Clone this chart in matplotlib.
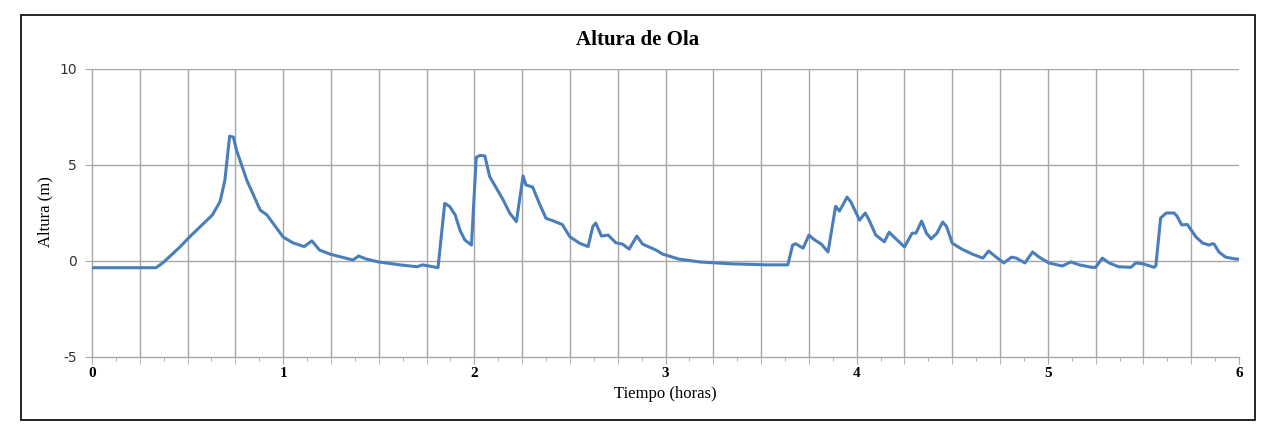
import matplotlib.pyplot as plt
import numpy as np
from matplotlib.patches import Rectangle
from matplotlib.ticker import FixedLocator

plt.rcParams['axes.unicode_minus'] = False

# tiempo (horas) y altura de ola (m)
tiempo = [0.0, 0.335, 0.37, 0.46, 0.51, 0.63, 0.67, 0.695, 0.72, 0.74, 0.755,
          0.81, 0.88, 0.915, 1.0, 1.05, 1.11, 1.15, 1.19, 1.245, 1.365, 1.395,
          1.435, 1.5, 1.61, 1.70, 1.73, 1.81, 1.845, 1.87, 1.90, 1.925, 1.95,
          1.985, 2.01, 2.03, 2.055, 2.08, 2.115, 2.15, 2.185, 2.22, 2.255,
          2.27, 2.305, 2.34, 2.375, 2.41, 2.46, 2.50, 2.55, 2.595, 2.62, 2.635,
          2.665, 2.70, 2.74, 2.775, 2.81, 2.85, 2.88, 2.95, 2.985, 3.07, 3.18,
          3.35, 3.53, 3.64, 3.665, 3.68, 3.72, 3.75, 3.78, 3.815, 3.85, 3.89,
          3.91, 3.95, 3.97, 4.015, 4.045, 4.065, 4.10, 4.145, 4.17, 4.195,
          4.25, 4.29, 4.31, 4.34, 4.365, 4.39, 4.42, 4.45, 4.47, 4.50, 4.55,
          4.605, 4.66, 4.69, 4.73, 4.77, 4.81, 4.835, 4.88, 4.92, 4.955, 5.005,
          5.075, 5.12, 5.165, 5.23, 5.25, 5.285, 5.32, 5.37, 5.435, 5.46, 5.50,
          5.555, 5.565, 5.59, 5.62, 5.66, 5.675, 5.70, 5.73, 5.775, 5.81, 5.845,
          5.86, 5.87, 5.895, 5.93, 5.985, 6.0]
altura = [-0.35, -0.35, -0.1, 0.73, 1.25, 2.4, 3.1, 4.2, 6.5, 6.45, 5.8,
          4.2, 2.65, 2.4, 1.25, 0.95, 0.75, 1.05, 0.57, 0.36, 0.05, 0.26,
          0.1, -0.05, -0.2, -0.3, -0.2, -0.35, 3.0, 2.85, 2.4, 1.6, 1.1,
          0.83, 5.4, 5.5, 5.47, 4.4, 3.8, 3.2, 2.5, 2.05, 4.43,
          3.96, 3.85, 3.0, 2.22, 2.1, 1.9, 1.26, 0.93, 0.75, 1.8, 1.98,
          1.3, 1.35, 0.95, 0.88, 0.62, 1.3, 0.88, 0.57, 0.36, 0.1, -0.05,
          -0.15, -0.2, -0.2, 0.83, 0.9, 0.67, 1.35, 1.1, 0.88, 0.47, 2.85,
          2.6, 3.33, 3.07, 2.13, 2.5, 2.13, 1.35, 1.0, 1.5, 1.25,
          0.73, 1.45, 1.45, 2.08, 1.45, 1.15, 1.45, 2.03, 1.8, 0.93, 0.62,
          0.36, 0.15, 0.52, 0.2, -0.1, 0.2, 0.15, -0.1, 0.47, 0.2, -0.1,
          -0.26, -0.05, -0.2, -0.33, -0.33, 0.15, -0.1, -0.3, -0.33, -0.1, -0.15,
          -0.33, -0.25, 2.24, 2.5, 2.5, 2.35, 1.88, 1.9, 1.25, 0.93, 0.83,
          0.9, 0.88, 0.47, 0.2, 0.1, 0.1]

y_ticks = [-5, 0, 5, 10]
x_ticks = [0, 1, 2, 3, 4, 5, 6]

fig = plt.figure(figsize=(12.72, 4.24), dpi=100)
ax = fig.add_axes([92 / 1272, 1 - 357 / 424, (1239 - 92) / 1272, 288 / 424])

grid_c = '#a6a6a6'
ax.plot(tiempo, altura, color='#4a7ebb', lw=2.2, solid_joinstyle='round', zorder=3)

ax.set_xlim(0, 6)
ax.set_ylim(-5, 10)
ax.set_yticks(y_ticks)
ax.set_xticks(x_ticks)

for xv in np.arange(0.25, 6, 0.25):
    ax.axvline(xv, color=grid_c, lw=1, zorder=1)
for yv in y_ticks[1:]:
    ax.axhline(yv, color=grid_c, lw=1, zorder=1)

for s in ['top', 'right']:
    ax.spines[s].set_visible(False)
for s in ['left', 'bottom']:
    ax.spines[s].set_color(grid_c)
    ax.spines[s].set_linewidth(1)

ax.tick_params(axis='y', length=5, color=grid_c, labelsize=10, pad=6,
               labelcolor='#333333')
ax.tick_params(axis='x', which='major', length=5, color=grid_c, pad=2)
ax.tick_params(axis='x', which='minor', length=3, color=grid_c)
for lab in ax.get_xticklabels():
    lab.set_family('Liberation Serif')
    lab.set_fontsize(11)
    lab.set_fontweight('bold')

# ticks cada 0.125, los de 0.25 mas largos
ax.xaxis.set_minor_locator(FixedLocator([v for v in np.arange(0.125, 6, 0.125)
                                         if abs(v - round(v)) > 1e-6]))
for t, v in zip(ax.xaxis.get_minor_ticks(), ax.xaxis.get_minor_locator()()):
    if abs(v * 4 - round(v * 4)) < 1e-6:
        t.tick1line.set_markersize(5)

fig.text(638 / 1272, 1 - 40 / 424, 'Altura de Ola', ha='center', va='center',
         fontsize=15, fontweight='bold', family='Liberation Serif')
fig.text(665 / 1272, 1 - 394 / 424, 'Tiempo (horas)', ha='center', va='center',
         fontsize=12, family='Liberation Serif')
fig.text(45 / 1272, 1 - 212 / 424, 'Altura (m)', ha='center', va='center',
         rotation=90, fontsize=12, family='Liberation Serif')

fig.patches.append(Rectangle((21 / 1272, 1 - 420 / 424), (1255 - 21) / 1272,
                             (420 - 15) / 424, transform=fig.transFigure,
                             fill=False, edgecolor='black', lw=1.2))

fig.savefig('out.png', dpi=100)
